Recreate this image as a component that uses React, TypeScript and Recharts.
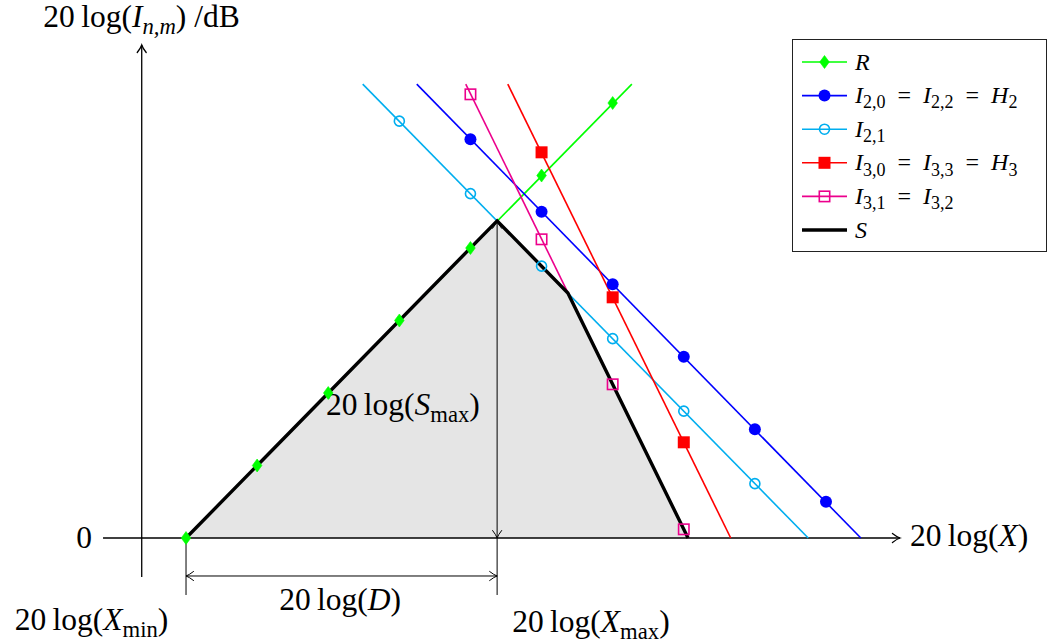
import React from 'react';
import { ComposedChart, Line, Area, XAxis, YAxis, ReferenceLine, ReferenceDot, Legend } from 'recharts';

type P = { x: number; y: number };
type Tok = [string, 'r' | 'i' | 'sr' | 'si'];

const W = 1047;
const H = 644;
const FONT = "'Liberation Serif', 'DejaVu Serif', serif";

// visible window in data units (20 log(X) horizontally, dB vertically)
const X_DOMAIN: [number, number] = [-2.616, 12.108];
const Y_DOMAIN: [number, number] = [-1.462, 7.421];

// ---- series ----
const R_LINE: P[] = [{ x: 0, y: 0 }, { x: 6.27, y: 6.26 }];
const R_MARKS: P[] = [
  { x: 0, y: 0 }, { x: 1, y: 1 }, { x: 2, y: 2 }, { x: 3, y: 3 }, { x: 4, y: 4 }, { x: 5, y: 5 }, { x: 6, y: 6 },
];
const I20_LINE: P[] = [{ x: 3.245, y: 6.26 }, { x: 9.49, y: 0 }];
const I20_MARKS: P[] = [
  { x: 4, y: 5.5 }, { x: 5, y: 4.5 }, { x: 6, y: 3.5 }, { x: 7, y: 2.5 }, { x: 8, y: 1.5 }, { x: 9, y: 0.5 },
];
const I21_LINE: P[] = [{ x: 2.485, y: 6.26 }, { x: 8.75, y: 0 }];
const I21_MARKS: P[] = [
  { x: 3, y: 5.75 }, { x: 4, y: 4.75 }, { x: 5, y: 3.75 }, { x: 6, y: 2.75 }, { x: 7, y: 1.75 }, { x: 8, y: 0.75 },
];
const I30_LINE: P[] = [{ x: 4.525, y: 6.26 }, { x: 7.66, y: 0 }];
const I30_MARKS: P[] = [{ x: 5, y: 5.32 }, { x: 6, y: 3.32 }, { x: 7, y: 1.32 }];
const I31_LINE: P[] = [{ x: 3.934, y: 6.26 }, { x: 7.06, y: 0 }];
const I31_MARKS: P[] = [{ x: 4, y: 6.12 }, { x: 5, y: 4.12 }, { x: 6, y: 2.12 }, { x: 7, y: 0.12 }];
const S_LINE: P[] = [{ x: 0, y: 0 }, { x: 4.375, y: 4.375 }, { x: 5.37, y: 3.38 }, { x: 7.06, y: 0 }];

// annotation anchors (data units)
const X_MIN = 0;
const X_MAX = 4.375;
const S_MAX = 4.375;
const AXIS_X_FROM = -1.167;
const AXIS_X_TO = 10.04;
const AXIS_Y_AT = -0.623;
const AXIS_Y_FROM = -0.538;
const AXIS_Y_TO = 6.8;
const EXT_BOTTOM = -0.786;
const DIM_D_Y = -0.524;

const GREEN = '#00ff00';
const BLUE = '#0000ff';
const CYAN = '#00aeef';
const RED = '#ff0000';
const MAGENTA = '#ec008c';

type Kind = 'diamond' | 'disc' | 'circle' | 'square' | 'osquare' | 'none';

const EQ = '\u2002=\u2002';

const SERIES: { name: string; color: string; line: P[]; marks: P[]; kind: Kind; label: Tok[] }[] = [
  { name: 'R', color: GREEN, line: R_LINE, marks: R_MARKS, kind: 'diamond', label: [['R', 'i']] },
  {
    name: 'I20', color: BLUE, line: I20_LINE, marks: I20_MARKS, kind: 'disc',
    label: [['I', 'i'], ['2,0', 'sr'], [EQ, 'r'], ['I', 'i'], ['2,2', 'sr'], [EQ, 'r'], ['H', 'i'], ['2', 'sr']],
  },
  { name: 'I21', color: CYAN, line: I21_LINE, marks: I21_MARKS, kind: 'circle', label: [['I', 'i'], ['2,1', 'sr']] },
  {
    name: 'I30', color: RED, line: I30_LINE, marks: I30_MARKS, kind: 'square',
    label: [['I', 'i'], ['3,0', 'sr'], [EQ, 'r'], ['I', 'i'], ['3,3', 'sr'], [EQ, 'r'], ['H', 'i'], ['3', 'sr']],
  },
  {
    name: 'I31', color: MAGENTA, line: I31_LINE, marks: I31_MARKS, kind: 'osquare',
    label: [['I', 'i'], ['3,1', 'sr'], [EQ, 'r'], ['I', 'i'], ['3,2', 'sr']],
  },
];

const LABELS: { x: number; y: number; anchor: 'start' | 'middle' | 'end'; tokens: Tok[] }[] = [
  { x: -1.322, y: -0.14, anchor: 'end', tokens: [['0', 'r']] },
  { x: 10.18, y: -0.11, anchor: 'start', tokens: [['20\u2009log(', 'r'], ['X', 'i'], [')', 'r']] },
  { x: -0.626, y: 7.05, anchor: 'middle', tokens: [['20\u2009log(', 'r'], ['I', 'i'], ['n,m', 'si'], [')\u2005/dB', 'r']] },
  { x: 3.05, y: 1.7, anchor: 'middle', tokens: [['20\u2009log(', 'r'], ['S', 'i'], ['max', 'sr'], [')', 'r']] },
  { x: 2.166, y: -0.993, anchor: 'middle', tokens: [['20\u2009log(', 'r'], ['D', 'i'], [')', 'r']] },
  { x: -1.329, y: -1.269, anchor: 'middle', tokens: [['20\u2009log(', 'r'], ['X', 'i'], ['min', 'sr'], [')', 'r']] },
  { x: 5.695, y: -1.297, anchor: 'middle', tokens: [['20\u2009log(', 'r'], ['X', 'i'], ['max', 'sr'], [')', 'r']] },
];

function MathText({ x, y, size, tokens, anchor = 'start', subScale = 0.72 }: { x: number; y: number; size: number; tokens: Tok[]; anchor?: string; subScale?: number }) {
  let shifted = false;
  const shift = size * 0.22;
  return (
    <text x={x} y={y} fontFamily={FONT} fontSize={size} textAnchor={anchor as any} fill="#000">
      {tokens.map(([t, s], i) => {
        const sub = s[0] === 's';
        const it = s.endsWith('i');
        let dy = 0;
        if (sub && !shifted) { dy = shift; shifted = true; }
        else if (!sub && shifted) { dy = -shift; shifted = false; }
        return (
          <tspan key={i} dy={dy || undefined} fontSize={sub ? size * subScale : size} fontStyle={it ? 'italic' : 'normal'}>
            {t}
          </tspan>
        );
      })}
    </text>
  );
}

function MarkerShape({ kind, cx, cy, color }: { kind: Kind; cx: number; cy: number; color: string }) {
  switch (kind) {
    case 'diamond':
      return <path d={`M${cx},${cy - 6.5}L${cx + 4.8},${cy}L${cx},${cy + 6.5}L${cx - 4.8},${cy}Z`} fill={color} stroke={color} strokeWidth={0.6} />;
    case 'disc':
      return <circle cx={cx} cy={cy} r={6} fill={color} />;
    case 'circle':
      return <circle cx={cx} cy={cy} r={5} fill="none" stroke={color} strokeWidth={1.6} />;
    case 'square':
      return <rect x={cx - 6} y={cy - 6} width={12} height={12} fill={color} />;
    case 'osquare':
      return <rect x={cx - 5.2} y={cy - 5.2} width={10.4} height={10.4} fill="none" stroke={color} strokeWidth={1.6} />;
    default:
      return <g />;
  }
}

function arrowHead(tx: number, ty: number, dx: number, dy: number, key: string, sw: number) {
  const L = 7.5;
  const Wd = 4.5;
  const nx = -dy;
  const ny = dx;
  const bx = tx - dx * L;
  const by = ty - dy * L;
  const mx = tx - dx * L * 0.4;
  const my = ty - dy * L * 0.4;
  const d = `M${bx + nx * Wd},${by + ny * Wd}Q${mx + nx * 1},${my + ny * 1} ${tx},${ty}Q${mx - nx * 1},${my - ny * 1} ${bx - nx * Wd},${by - ny * Wd}`;
  return <path key={key} d={d} fill="none" stroke="#000" strokeWidth={sw} strokeLinecap="round" />;
}

const segShape = (startArrow: boolean, endArrow: boolean, sw: number) => (p: any) => {
  const { x1, y1, x2, y2 } = p;
  const len = Math.hypot(x2 - x1, y2 - y1) || 1;
  const ux = (x2 - x1) / len;
  const uy = (y2 - y1) / len;
  return (
    <g>
      <line x1={x1} y1={y1} x2={x2} y2={y2} stroke="#000" strokeWidth={sw} />
      {startArrow ? arrowHead(x1, y1, -ux, -uy, 's', sw) : null}
      {endArrow ? arrowHead(x2, y2, ux, uy, 'e', sw) : null}
    </g>
  );
};

const makeDot = (kind: Kind, color: string) => (p: any) => (
  <MarkerShape key={`m-${p.index}`} kind={kind} cx={p.cx} cy={p.cy} color={color} />
);

const LEGEND_ROW0 = 23;
const LEGEND_STEP = 33.6;

const renderLegend = () => {
  const rows = [
    ...SERIES.map((s) => ({ color: s.color, kind: s.kind, width: 1.6, label: s.label })),
    { color: '#000', kind: 'none' as Kind, width: 3.5, label: [['S', 'i']] as Tok[] },
  ];
  return (
    <svg width={255} height={214} style={{ display: 'block' }}>
      <rect x={0.5} y={0.5} width={254} height={212} fill="#fff" stroke="#222" strokeWidth={1} />
      {rows.map((r, i) => {
        const y = LEGEND_ROW0 + i * LEGEND_STEP;
        return (
          <g key={i}>
            <line x1={10} x2={55} y1={y} y2={y} stroke={r.color} strokeWidth={r.width} />
            <MarkerShape kind={r.kind} cx={32.5} cy={y} color={r.color} />
            <MathText x={63} y={y + 7.5} size={24} tokens={r.label} subScale={0.75} />
          </g>
        );
      })}
    </svg>
  );
};

export default function App() {
  return (
    <div style={{ position: 'absolute', left: 0, top: 0, width: W, height: H, background: '#fff' }}>
      <ComposedChart width={W} height={H} margin={{ top: 0, right: 0, bottom: 0, left: 0 }}>
        <XAxis type="number" dataKey="x" domain={X_DOMAIN} allowDataOverflow hide />
        <YAxis type="number" dataKey="y" domain={Y_DOMAIN} allowDataOverflow hide width={0} />
        <Area
          data={S_LINE}
          dataKey="y"
          type="linear"
          baseValue={0}
          fill="#e5e5e5"
          fillOpacity={1}
          stroke="none"
          isAnimationActive={false}
          legendType="none"
          dot={false}
          activeDot={false}
        />
        {/* axes */}
        <ReferenceLine segment={[{ x: AXIS_X_FROM, y: 0 }, { x: AXIS_X_TO, y: 0 }]} shape={segShape(false, true, 1.3)} />
        <ReferenceLine segment={[{ x: AXIS_Y_AT, y: AXIS_Y_FROM }, { x: AXIS_Y_AT, y: AXIS_Y_TO }]} shape={segShape(false, true, 1.3)} />
        {/* dimension lines */}
        <ReferenceLine segment={[{ x: X_MIN, y: 0 }, { x: X_MIN, y: EXT_BOTTOM }]} shape={segShape(false, false, 1)} />
        <ReferenceLine segment={[{ x: X_MAX, y: 0 }, { x: X_MAX, y: EXT_BOTTOM }]} shape={segShape(false, false, 1)} />
        <ReferenceLine segment={[{ x: X_MAX, y: 0 }, { x: X_MAX, y: S_MAX }]} shape={segShape(true, true, 1)} />
        <ReferenceLine segment={[{ x: X_MIN, y: DIM_D_Y }, { x: X_MAX, y: DIM_D_Y }]} shape={segShape(true, true, 1)} />
        {SERIES.map((s) => (
          <Line
            key={`l-${s.name}`}
            data={s.line}
            dataKey="y"
            type="linear"
            stroke={s.color}
            strokeWidth={1.6}
            dot={false}
            activeDot={false}
            isAnimationActive={false}
            legendType="none"
          />
        ))}
        <Line
          data={S_LINE}
          dataKey="y"
          type="linear"
          stroke="#000"
          strokeWidth={3.4}
          strokeLinejoin="miter"
          dot={false}
          activeDot={false}
          isAnimationActive={false}
          legendType="none"
        />
        {SERIES.map((s) => (
          <Line
            key={`m-${s.name}`}
            data={s.marks}
            dataKey="y"
            type="linear"
            stroke="none"
            dot={makeDot(s.kind, s.color)}
            activeDot={false}
            isAnimationActive={false}
            legendType="none"
          />
        ))}
        {LABELS.map((l, i) => (
          <ReferenceDot
            key={`t-${i}`}
            x={l.x}
            y={l.y}
            r={0}
            shape={(p: any) => <MathText x={p.cx} y={p.cy} size={31.5} tokens={l.tokens} anchor={l.anchor} />}
          />
        ))}
        <Legend
          layout="horizontal"
          verticalAlign="middle"
          align="center"
          content={renderLegend}
          wrapperStyle={{ position: 'absolute', left: 792, top: 39, width: 255, height: 214, margin: 0, padding: 0 }}
        />
      </ComposedChart>
    </div>
  );
}
